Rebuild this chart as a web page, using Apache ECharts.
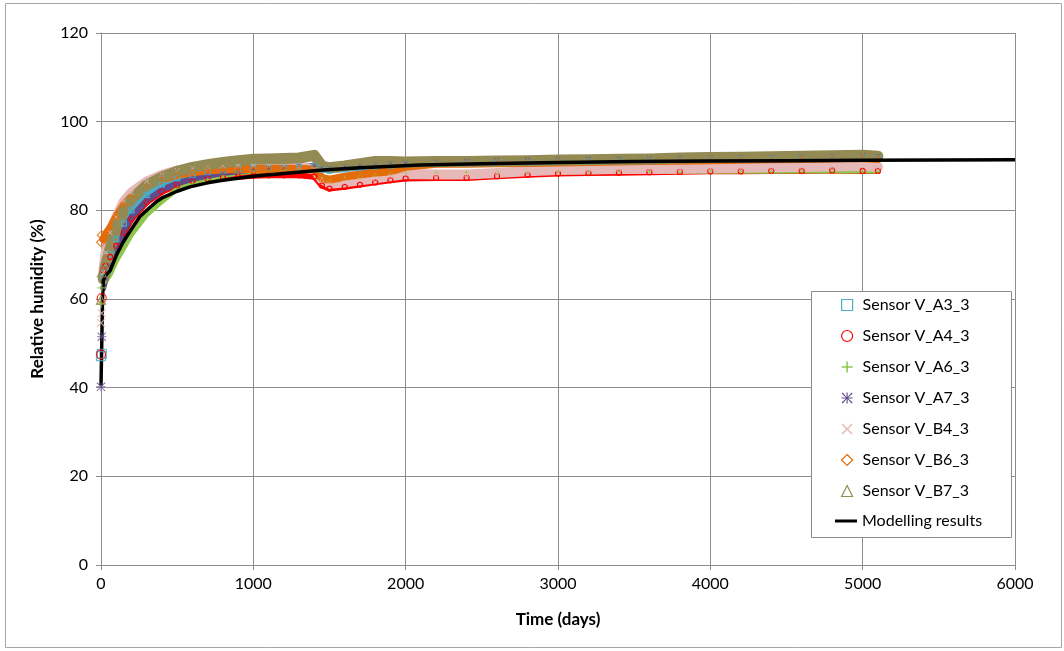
<!DOCTYPE html>
<html>
<head>
<meta charset="utf-8">
<script src="https://cdn.jsdelivr.net/npm/echarts@6/dist/echarts.min.js"></script>
<style>
  html, body { margin: 0; padding: 0; background: #ffffff; }
  #chart { width: 1064px; height: 651px; }
</style>
</head>
<body>
<div id="chart"></div>
<script>
// ---- axis ticks ----
const xTicks = [0, 1000, 2000, 3000, 4000, 5000, 6000];
const yTicks = [0, 20, 40, 60, 80, 100, 120];

// ---- sensor readings: first readings after installation (days) ----
const startDays = [0, 5];
const startA3 = [47.1, 47.6];
const startA4 = [47.5, 60.2];
const startA6 = [59.0, 62.5];
const startA7 = [40.2, 51.5];
const startB4 = [54.6, 56.8];
const startB6 = [72.8, 74.4];
const startB7 = [59.8, 66.0];

// ---- sensor readings over time (days) ----
const sensorDays = [15, 30, 60, 100, 150, 200, 300, 400, 500, 600, 700, 800, 900, 1000, 1100, 1200, 1300, 1400, 1450, 1500,
  1600, 1700, 1800, 1900, 2000, 2200, 2400, 2600, 2800, 3000, 3200, 3400, 3600, 3800, 4000, 4200, 4400, 4600, 4800, 5000, 5100];

const rhA3 = [65.0, 67.0, 70.0, 73.5, 77.0, 80.0, 83.5, 85.8, 87.2, 88.0, 88.6, 89.0, 89.3, 89.5, 89.6, 89.7, 89.8, 89.9, 89.2, 89.0,
  89.3, 89.6, 89.9, 90.1, 90.3, 90.5, 90.6, 90.7, 90.8, 90.9, 91.0, 91.1, 91.2, 91.3, 91.4, 91.5, 91.6, 91.6, 91.7, 91.8, 91.7];
const rhA4 = [66.5, 67.5, 69.5, 72.0, 75.0, 78.0, 81.8, 84.2, 85.7, 86.6, 87.1, 87.4, 87.6, 87.8, 87.9, 87.9, 87.9, 87.6, 85.6, 84.9,
  85.3, 85.8, 86.3, 86.8, 87.2, 87.3, 87.3, 87.7, 88.0, 88.3, 88.4, 88.5, 88.6, 88.7, 88.8, 88.8, 88.9, 88.9, 89.0, 88.9, 88.9];
const rhA6 = [62.8, 64.0, 65.5, 68.5, 71.5, 74.5, 79.0, 82.0, 84.8, 86.0, 87.0, 87.8, 88.4, 88.8, 89.0, 89.0, 89.0, 89.0, 87.5, 87.2,
  87.4, 87.7, 88.0, 88.2, 88.4, 88.5, 88.5, 88.6, 88.6, 88.7, 88.7, 88.8, 88.8, 88.8, 88.9, 88.8, 88.8, 88.9, 88.9, 88.9, 88.8];
const rhA7 = [62.5, 64.5, 67.5, 71.5, 75.5, 78.5, 82.2, 84.6, 86.1, 87.1, 87.8, 88.4, 88.8, 89.2, 89.5, 89.7, 89.9, 90.0, 89.5, 89.5,
  89.8, 90.1, 90.3, 90.5, 90.7, 90.9, 91.1, 91.3, 91.4, 91.5, 91.6, 91.6, 91.7, 91.8, 91.9, 92.0, 92.0, 92.1, 92.2, 92.3, 92.2];
const rhB4 = [66.0, 70.5, 75.0, 78.5, 82.0, 84.0, 86.5, 88.0, 89.0, 89.5, 89.8, 90.0, 90.0, 90.0, 90.0, 90.0, 89.8, 89.2, 87.0, 86.0,
  86.3, 86.8, 87.2, 87.7, 88.2, 88.1, 88.1, 88.4, 88.8, 89.1, 89.2, 89.3, 89.3, 89.4, 89.5, 89.6, 89.7, 89.8, 89.9, 90.0, 89.8];
const rhB6 = [73.5, 74.5, 76.0, 78.5, 81.2, 83.0, 85.5, 87.0, 88.0, 88.6, 89.0, 89.2, 89.3, 89.3, 89.4, 89.4, 89.4, 89.2, 87.3, 86.9,
  87.6, 88.1, 88.5, 88.8, 89.8, 90.5, 90.5, 90.6, 90.7, 90.8, 90.9, 91.0, 91.1, 91.2, 91.3, 91.4, 91.5, 91.6, 91.7, 91.8, 91.6];
const rhB7 = [64.5, 67.5, 71.5, 76.0, 80.0, 82.5, 85.7, 87.5, 88.8, 89.7, 90.3, 90.8, 91.2, 91.5, 91.6, 91.7, 91.8, 92.4, 90.0, 89.6,
  90.0, 90.5, 91.0, 91.0, 90.9, 91.0, 91.0, 91.1, 91.2, 91.35, 91.4, 91.5, 91.6, 91.8, 91.9, 92.0, 92.1, 92.2, 92.3, 92.4, 92.2];

// ---- modelling results ----
const modelDays = [0, 5, 10, 15, 30, 60, 100, 145, 200, 256, 300, 365, 400, 500, 584, 700, 800, 1000, 1200, 1460, 1700, 2095,
  2500, 3000, 3500, 4000, 4500, 5000, 5500, 6000];
const modelRH = [40.5, 50.0, 60.0, 64.2, 65.3, 66.4, 69.8, 72.8, 75.8, 78.6, 80.0, 82.0, 82.8, 84.3, 85.3, 86.2, 86.8, 87.7, 88.3, 89.1, 89.6, 90.2,
  90.5, 90.8, 91.0, 91.1, 91.2, 91.3, 91.35, 91.4];

// ---- marker shapes ----
const PLUS = 'path://M4.3,0h1.4v4.3h4.3v1.4h-4.3v4.3h-1.4v-4.3h-4.3v-1.4h4.3z';
const CROSS = 'path://M1,0L5,4L9,0L10,1L6,5L10,9L9,10L5,6L1,10L0,9L4,5L0,1Z';
const STAR = 'path://M4.5,0h1v4L9,0L10,1L6,4.5h4v1h-4L10,9L9,10L5.5,6v4h-1v-4L1,10L0,9L4,5.5h-4v-1h4L0,1L1,0L4.5,4z';
const LINE_ICON = 'path://M0,0H22V3H0Z';

const sensors = [
  { name: 'Sensor V_A3_3', color: '#4BACC6', symbol: 'rect', hollow: true, width: 6, start: startA3, rh: rhA3 },
  { name: 'Sensor V_A4_3', color: '#FF0000', symbol: 'circle', hollow: true, width: 6, start: startA4, rh: rhA4 },
  { name: 'Sensor V_A6_3', color: '#8DC64A', symbol: PLUS, hollow: false, width: 5, start: startA6, rh: rhA6 },
  { name: 'Sensor V_A7_3', color: '#604A8B', symbol: STAR, hollow: false, width: 6, start: startA7, rh: rhA7 },
  { name: 'Sensor V_B4_3', color: '#E6B9B8', symbol: CROSS, hollow: false, width: 10, start: startB4, rh: rhB4 },
  { name: 'Sensor V_B6_3', color: '#E46C0A', symbol: 'diamond', hollow: true, width: 8, start: startB6, rh: rhB6 },
  { name: 'Sensor V_B7_3', color: '#948A54', symbol: 'triangle', hollow: true, width: 11, start: startB7, rh: rhB7 }
];

function markerStyle(s) {
  return s.hollow
    ? { color: 'rgba(0,0,0,0)', borderColor: s.color, borderWidth: 1.2 }
    : { color: s.color, borderWidth: 0 };
}

const FONT = 'Lato, "Open Sans", sans-serif';
const series = [];
sensors.forEach(function (s) {
  series.push({
    name: s.name,
    type: 'line',
    data: sensorDays.map(function (d, i) { return [d, s.rh[i]]; }),
    symbol: s.symbol,
    symbolSize: 5,
    showSymbol: true,
    itemStyle: markerStyle(s),
    lineStyle: { color: s.color, width: s.width, join: 'round', cap: 'round' },
    emphasis: { disabled: true },
    z: 2
  });
});
sensors.forEach(function (s) {
  series.push({
    name: s.name,
    type: 'scatter',
    data: startDays.map(function (d, i) { return [d, s.start[i]]; }),
    symbol: s.symbol,
    symbolSize: 9,
    itemStyle: markerStyle(s),
    emphasis: { disabled: true },
    z: 4
  });
});
series.push({
  name: 'Modelling results',
  type: 'line',
  data: modelDays.map(function (d, i) { return [d, modelRH[i]]; }),
  showSymbol: false,
  symbol: 'none',
  smooth: false,
  lineStyle: { color: '#000000', width: 3.5, join: 'round' },
  emphasis: { disabled: true },
  z: 3
});

const sensorLegend = sensors.map(function (s) {
  return { name: s.name, icon: s.symbol, itemStyle: markerStyle(s) };
});
const modelLegend = [{ name: 'Modelling results', icon: LINE_ICON, itemStyle: { color: '#000000', borderWidth: 0 } }];

const gridColor = '#8C8C8C';
const chart = echarts.init(document.getElementById('chart'), null, { renderer: 'canvas' });
chart.setOption({
  animation: false,
  backgroundColor: '#ffffff',
  textStyle: { fontFamily: FONT },
  grid: { left: 101, right: 49, top: 33, bottom: 86, containLabel: false },
  xAxis: {
    type: 'value',
    min: xTicks[0], max: xTicks[xTicks.length - 1], interval: 1000,
    name: 'Time (days)', nameLocation: 'middle', nameGap: 46,
    nameTextStyle: { fontFamily: FONT, fontSize: 17, fontWeight: 'bold', color: '#000' },
    axisLine: { show: true, onZero: false, lineStyle: { color: gridColor, width: 1 } },
    axisTick: { show: true, inside: false, length: 5, lineStyle: { color: gridColor } },
    axisLabel: { color: '#000', fontSize: 16, fontFamily: FONT, margin: 11,
      formatter: function (v) { return String(v); } },
    splitLine: { show: true, lineStyle: { color: gridColor, width: 1 } }
  },
  yAxis: {
    type: 'value',
    min: yTicks[0], max: yTicks[yTicks.length - 1], interval: 20,
    name: 'Relative humidity (%)', nameLocation: 'middle', nameGap: 55, nameRotate: 90,
    nameTextStyle: { fontFamily: FONT, fontSize: 17, fontWeight: 'bold', color: '#000' },
    axisLine: { show: true, onZero: false, lineStyle: { color: gridColor, width: 1 } },
    axisTick: { show: true, inside: false, length: 5, lineStyle: { color: gridColor } },
    axisLabel: { color: '#000', fontSize: 16, fontFamily: FONT, margin: 13,
      formatter: function (v) { return String(v); } },
    splitLine: { show: true, lineStyle: { color: gridColor, width: 1 } }
  },
  legend: [{
    show: true,
    orient: 'vertical',
    left: 841, top: 296,
    padding: 0,
    itemGap: 13,
    itemWidth: 11, itemHeight: 11,
    selectedMode: false,
    textStyle: { fontFamily: FONT, fontSize: 16, color: '#000', lineHeight: 18, padding: [0, 0, 0, 5] },
    data: sensorLegend,
    z: 10
  }, {
    show: true,
    orient: 'vertical',
    left: 835, top: 512,
    padding: 0,
    itemWidth: 22, itemHeight: 11,
    selectedMode: false,
    textStyle: { fontFamily: FONT, fontSize: 16, color: '#000', lineHeight: 18 },
    data: modelLegend,
    z: 10
  }],
  graphic: [{
    type: 'rect',
    shape: { x: 5.5, y: 3.5, width: 1056, height: 644 },
    style: { fill: 'none', stroke: '#A6A6A6', lineWidth: 1 },
    silent: true, z: 0
  }, {
    type: 'rect',
    shape: { x: 811.5, y: 291.5, width: 200, height: 246 },
    style: { fill: '#ffffff', stroke: '#8C8C8C', lineWidth: 1 },
    silent: true, z: 1
  }],
  series: series
});
</script>
</body>
</html>
